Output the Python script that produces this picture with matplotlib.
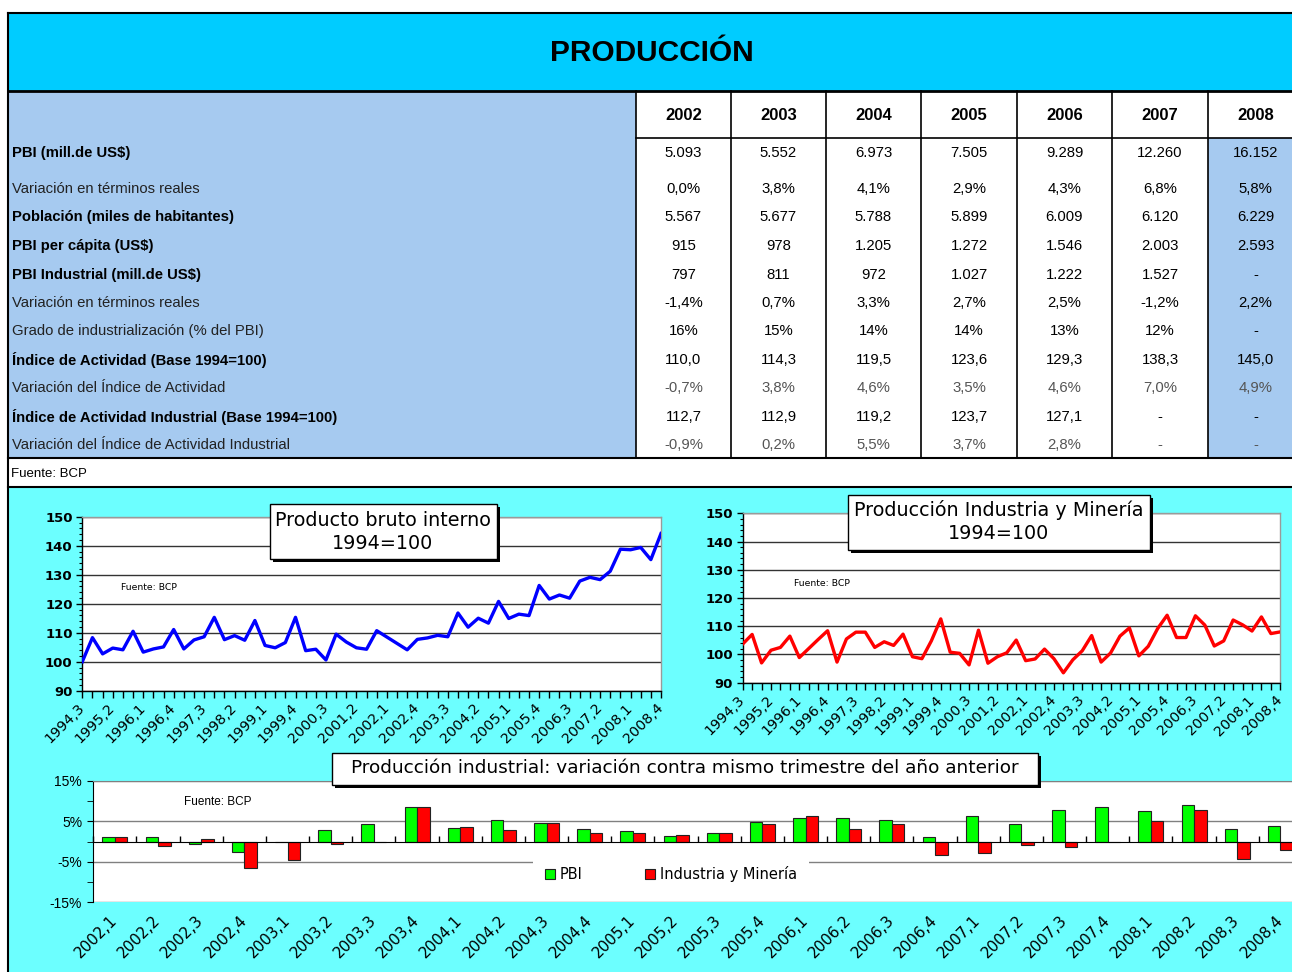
import matplotlib
matplotlib.use('Agg')
import matplotlib.pyplot as plt
from matplotlib.patches import Rectangle
import numpy as np

# ---------------- DATA ----------------
years = ['2002', '2003', '2004', '2005', '2006', '2007', '2008']
row_labels = [
    'PBI (mill.de US$)',
    'Variación en términos reales',
    'Población (miles de habitantes)',
    'PBI per cápita (US$)',
    'PBI Industrial (mill.de US$)',
    'Variación en términos reales',
    'Grado de industrialización (% del PBI)',
    'Índice de Actividad (Base 1994=100)',
    'Variación del Índice de Actividad',
    'Índice de Actividad Industrial (Base 1994=100)',
    'Variación del Índice de Actividad Industrial',
]
row_bold = [True, False, True, True, True, False, False, True, False, True, False]
row_values = [
    ['5.093', '5.552', '6.973', '7.505', '9.289', '12.260', '16.152'],
    ['0,0%', '3,8%', '4,1%', '2,9%', '4,3%', '6,8%', '5,8%'],
    ['5.567', '5.677', '5.788', '5.899', '6.009', '6.120', '6.229'],
    ['915', '978', '1.205', '1.272', '1.546', '2.003', '2.593'],
    ['797', '811', '972', '1.027', '1.222', '1.527', '-'],
    ['-1,4%', '0,7%', '3,3%', '2,7%', '2,5%', '-1,2%', '2,2%'],
    ['16%', '15%', '14%', '14%', '13%', '12%', '-'],
    ['110,0', '114,3', '119,5', '123,6', '129,3', '138,3', '145,0'],
    ['-0,7%', '3,8%', '4,6%', '3,5%', '4,6%', '7,0%', '4,9%'],
    ['112,7', '112,9', '119,2', '123,7', '127,1', '-', '-'],
    ['-0,9%', '0,2%', '5,5%', '3,7%', '2,8%', '-', '-'],
]
row_grey = [False, False, False, False, False, False, False, False, True, False, True]

quarters = [f'{y},{q}' for y in range(1994, 2009) for q in range(1, 5)][2:]

pbi_index = [100.0, 108.3, 102.7, 104.7, 104.1, 110.5, 103.3, 104.4, 105.1, 111.1,
             104.4, 107.5, 108.6, 115.3, 107.6, 109.0, 107.4, 114.2, 105.6, 104.8,
             106.6, 115.3, 103.8, 104.3, 100.6, 109.5, 106.8, 104.8, 104.3, 110.7,
             108.5, 106.3, 104.1, 107.7, 108.2, 109.1, 108.6, 116.8, 111.9, 115.0,
             113.3, 120.8, 114.9, 116.4, 115.9, 126.3, 121.6, 123.0, 121.9, 127.8,
             129.1, 128.3, 131.2, 138.8, 138.6, 139.4, 135.2, 144.2]

ind_index = [103.7, 107.1, 97.0, 101.5, 102.5, 106.5, 98.9, 102.1, 105.3, 108.4,
             97.3, 105.5, 107.9, 107.9, 102.5, 104.5, 103.2, 107.2, 99.2, 98.5,
             104.8, 112.6, 100.8, 100.4, 96.3, 108.6, 96.9, 99.2, 100.6, 105.1,
             97.8, 98.4, 101.9, 98.5, 93.5, 98.1, 101.3, 106.7, 97.3, 100.5,
             106.5, 109.4, 99.5, 102.9, 109.2, 113.9, 106.0, 106.0, 113.7, 110.4,
             103.0, 104.8, 112.2, 110.5, 108.3, 113.3, 107.4, 108.0]

bar_quarters = ['2002,1', '2002,2', '2002,3', '2002,4', '2003,1', '2003,2', '2003,3',
                '2003,4', '2004,1', '2004,2', '2004,3', '2004,4', '2005,1', '2005,2',
                '2005,3', '2005,4', '2006,1', '2006,2', '2006,3', '2006,4', '2007,1',
                '2007,2', '2007,3', '2007,4', '2008,1', '2008,2', '2008,3', '2008,4']
pbi_var = [1.2, 1.2, -0.6, -2.6, -0.2, 2.9, 4.2, 8.4, 3.4, 5.2, 4.5, 3.2, 2.5, 1.4,
           2.2, 4.9, 5.7, 5.7, 5.2, 1.0, 6.4, 4.3, 7.7, 8.6, 7.5, 8.9, 3.2, 3.9]
ind_var = [1.0, -1.1, 0.6, -6.6, -4.5, -0.7, -0.2, 8.6, 3.7, 2.9, 4.5, 2.1, 2.2, 1.7,
           2.0, 4.3, 6.4, 3.2, 4.3, -3.3, -2.8, -0.8, -1.4, 0.0, 5.0, 7.7, -4.2, -2.1]

# ---------------- FIGURE ----------------
W, H = 1292, 972
fig = plt.figure(figsize=(W / 100, H / 100), dpi=100)
fig.patch.set_facecolor('white')

ARIAL = ['Liberation Sans', 'DejaVu Sans']
GEN = ['DejaVu Sans']

C_TITLE = '#00CCFF'
C_TABLE = '#A6CAF0'
C_PANEL = '#6CFFFF'

bg = fig.add_axes([0, 0, 1, 1])
bg.set_xlim(0, W); bg.set_ylim(H, 0); bg.axis('off'); bg.set_zorder(0)


def rect(ax, x0, y0, x1, y1, fc, ec='none', lw=0, z=1):
    ax.add_patch(Rectangle((x0, y0), x1 - x0, y1 - y0, facecolor=fc, edgecolor=ec, lw=lw, zorder=z))


rect(bg, 8, 13, W, 91, C_TITLE)
rect(bg, 8, 91, 636, 458, C_TABLE)
rect(bg, 636, 91, W, 458, 'white')
rect(bg, 1208, 138, W, 458, C_TABLE)
rect(bg, 8, 458, W, 487, 'white')
rect(bg, 8, 487, W, H, C_PANEL)

bg.plot([8, W], [13, 13], color='black', lw=1.5, zorder=3)
bg.plot([8, 8], [13, H], color='black', lw=1.5, zorder=3)
bg.plot([8, W], [91, 91], color='black', lw=2, zorder=3)
bg.plot([8, W], [458, 458], color='black', lw=1.5, zorder=3)
bg.plot([8, W], [487, 487], color='black', lw=1.5, zorder=3)

col_edges = [636, 731, 826, 921, 1017, 1112, 1208, 1303]
for xe in col_edges[:-1]:
    bg.plot([xe, xe], [91, 458], color='black', lw=1.2, zorder=3)
bg.plot([636, W], [138, 138], color='black', lw=1.2, zorder=3)

bg.text(652, 53, 'PRODUCCIÓN', ha='center', va='center', fontsize=21.5,
        fontweight='bold', family=ARIAL, zorder=4)

col_centers = [(col_edges[i] + col_edges[i + 1]) / 2 for i in range(len(years))]
for c, yr in zip(col_centers, years):
    bg.text(c, 115, yr, ha='center', va='center', fontsize=12, fontweight='bold',
            family=ARIAL, zorder=4)

row_y = [153, 189, 217, 246, 275, 303, 331, 360, 388, 417, 445]
for ry, lab, bold, vals, grey in zip(row_y, row_labels, row_bold, row_values, row_grey):
    bg.text(12, ry, lab, ha='left', va='center', fontsize=10.7,
            fontweight='bold' if bold else 'normal',
            color='black' if bold else '#222222', family=ARIAL, zorder=4)
    for c, v in zip(col_centers, vals):
        bg.text(c, ry, v, ha='center', va='center', fontsize=10.7,
                color='#555555' if grey else 'black', family=ARIAL, zorder=4)

bg.text(11, 474, 'Fuente: BCP', ha='left', va='center', fontsize=9.5, family=ARIAL, zorder=4)


def px_axes(x0, y0, x1, y1):
    a = fig.add_axes([x0 / W, 1 - y1 / H, (x1 - x0) / W, (y1 - y0) / H])
    a.set_zorder(2)
    return a


def line_chart(ax, vals, color):
    x = np.arange(len(vals))
    ax.plot(x, vals, color=color, lw=2.4, zorder=3)
    ax.set_xlim(0, len(vals) - 1)
    ax.set_ylim(90, 150)
    ax.set_yticks(np.arange(90, 151, 10))
    ax.set_yticks(np.arange(90, 151, 2), minor=True)
    ax.yaxis.grid(True, which='major', color='#333333', lw=1)
    ax.set_axisbelow(True)
    ax.set_xticks(x)
    ax.set_xticklabels([q if i % 3 == 0 else '' for i, q in enumerate(quarters)],
                       rotation=45, ha='right', va='center', rotation_mode='anchor',
                       fontsize=10.3, family=GEN)
    ax.tick_params(axis='x', length=5, width=1, direction='out', pad=6)
    ax.tick_params(axis='y', which='major', length=4, width=1, labelsize=9.5, pad=3)
    ax.tick_params(axis='y', which='minor', length=2.5, width=0.8)
    for lab in ax.get_yticklabels():
        lab.set_fontweight('bold'); lab.set_family(GEN)
    for s in ('top', 'right'):
        ax.spines[s].set_color('#9a9a9a'); ax.spines[s].set_linewidth(1)
    for s in ('left', 'bottom'):
        ax.spines[s].set_color('black'); ax.spines[s].set_linewidth(1)
    ax.set_facecolor('white')


ax1 = px_axes(82.3, 516.7, 661, 690.7)
line_chart(ax1, pbi_index, '#0000FF')
ax2 = px_axes(742.7, 513.3, 1280.3, 682.7)
line_chart(ax2, ind_index, '#FF0000')

# ---------------- BAR CHART ----------------
axb = px_axes(93.3, 780.7, 1302, 902.3)
xb = np.arange(len(bar_quarters))
axb.bar(xb - 0.145, pbi_var, 0.29, color='#00FF00', edgecolor='#222222', lw=0.8,
        label='PBI', zorder=3)
axb.bar(xb + 0.145, ind_var, 0.29, color='#FF0000', edgecolor='#222222', lw=0.8,
        label='Industria y Minería', zorder=3)
axb.set_xlim(-0.5, len(bar_quarters) - 0.5)
axb.set_ylim(-15, 15)
axb.set_yticks([-15, -5, 5, 15])
axb.set_yticklabels(['-15%', '-5%', '5%', '15%'], family=ARIAL)
axb.set_yticks([-10, 0, 10], minor=True)
axb.tick_params(axis='y', which='major', length=4, labelsize=10, pad=4)
axb.tick_params(axis='y', which='minor', length=4)
axb.yaxis.grid(True, which='major', color='#808080', lw=1)
axb.set_axisbelow(True)
axb.spines['bottom'].set_position(('data', 0))
axb.spines['bottom'].set_zorder(4)
axb.set_xticks(np.arange(-0.5, len(bar_quarters), 1))
axb.set_xticklabels([])
axb.tick_params(axis='x', direction='in', length=4, width=1)
for s in ('top', 'right'):
    axb.spines[s].set_color('#808080')
axb.spines['left'].set_color('black')
axb.set_facecolor('white')
sec = axb.secondary_xaxis(0.0)
sec.set_xticks(xb)
sec.set_xticklabels(bar_quarters, rotation=45, ha='right', va='center',
                    rotation_mode='anchor', fontsize=11, family=GEN)
sec.tick_params(length=0, pad=11)
sec.spines['bottom'].set_visible(False)

leg = axb.legend(loc='center', bbox_to_anchor=(0.478, 0.235), ncol=2, frameon=True,
                 facecolor='white', edgecolor='none', framealpha=1, fancybox=False,
                 prop={'family': GEN, 'size': 10.5}, handlelength=0.7, handleheight=0.7,
                 handletextpad=0.3, columnspacing=4.3, borderpad=0.8)

# ---------------- OVERLAY (title boxes) ----------------
ov = fig.add_axes([0, 0, 1, 1])
ov.set_xlim(0, W); ov.set_ylim(H, 0); ov.axis('off'); ov.set_zorder(10)
ov.patch.set_visible(False)


def title_box(x0, y0, x1, y1):
    rect(ov, x0 + 3, y0 + 3, x1 + 3, y1 + 3, 'black', z=1)
    rect(ov, x0, y0, x1, y1, 'white', ec='black', lw=1, z=2)


title_box(269.5, 504, 496.5, 559)
ov.text(383, 520, 'Producto bruto interno', ha='center', va='center', fontsize=13.8, family=GEN, zorder=3)
ov.text(383, 543, '1994=100', ha='center', va='center', fontsize=13.8, family=GEN, zorder=3)

title_box(848, 495, 1150, 550)
ov.text(999, 510, 'Producción Industria y Minería', ha='center', va='center', fontsize=13.8, family=GEN, zorder=3)
ov.text(999, 533, '1994=100', ha='center', va='center', fontsize=13.8, family=GEN, zorder=3)

title_box(331.5, 752.5, 1038, 784.5)
ov.text(685, 768, 'Producción industrial: variación contra mismo trimestre del año anterior',
        ha='center', va='center', fontsize=13.3, family=GEN, zorder=3)

ov.text(121, 587, 'Fuente: BCP', ha='left', va='center', fontsize=6.7, family=GEN, zorder=3)
ov.text(794, 583, 'Fuente: BCP', ha='left', va='center', fontsize=6.7, family=GEN, zorder=3)
ov.text(184, 802, 'Fuente: BCP', ha='left', va='center', fontsize=8.5, family=ARIAL, zorder=3)

fig.savefig('out.png', dpi=100)
